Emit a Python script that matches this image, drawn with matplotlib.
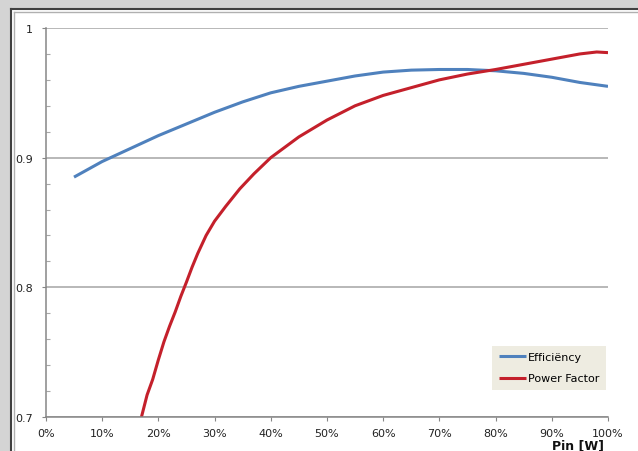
import matplotlib.pyplot as plt
from matplotlib.patches import Rectangle
from matplotlib.lines import Line2D
from matplotlib.ticker import MultipleLocator, PercentFormatter

# load fraction (x) and measured values
eff_x = [0.05, 0.10, 0.15, 0.20, 0.25, 0.30, 0.35, 0.40, 0.45, 0.50,
         0.55, 0.60, 0.65, 0.70, 0.75, 0.80, 0.85, 0.90, 0.95, 1.00]
efficiency = [0.885, 0.897, 0.907, 0.917, 0.926, 0.935, 0.943, 0.950, 0.955, 0.959,
              0.963, 0.966, 0.9675, 0.968, 0.968, 0.967, 0.965, 0.962, 0.958, 0.955]

pf_x = [0.17, 0.18, 0.19, 0.20, 0.21, 0.22, 0.23, 0.24, 0.25, 0.26, 0.27, 0.285, 0.30,
        0.32, 0.345, 0.37, 0.40, 0.425, 0.45, 0.50, 0.55, 0.60, 0.65, 0.70, 0.75,
        0.80, 0.85, 0.90, 0.95, 0.98, 1.00]
power_factor = [0.700, 0.717, 0.729, 0.744, 0.758, 0.770, 0.781, 0.793, 0.804, 0.8155,
                0.826, 0.840, 0.851, 0.8625, 0.876, 0.8875, 0.900, 0.908, 0.916, 0.929,
                0.940, 0.948, 0.954, 0.960, 0.9645, 0.968, 0.972, 0.976, 0.980, 0.9815,
                0.981]

W, H = 638, 452
fig = plt.figure(figsize=(W / 100, H / 100), dpi=100)
fig.patch.set_facecolor('#D4D4D4')

# white chart area with Excel-like border (behind the axes)
fig.patches.append(Rectangle((11 / W, 0), 1, (H - 10) / H, transform=fig.transFigure,
                             facecolor='white', edgecolor='none', zorder=-2))
border = [([11, 11], [0, H - 10], '#404040', 1.5),
          ([11, W], [H - 10, H - 10], '#404040', 1.5),
          ([14, 14], [0, H - 13], '#B0B0B0', 1),
          ([14, W], [H - 13, H - 13], '#B0B0B0', 1)]
for xs, ys, c, w in border:
    fig.add_artist(Line2D([v / W for v in xs], [v / H for v in ys],
                          transform=fig.transFigure, color=c, lw=w, zorder=-1))

left, right, top, bottom = 45.9, 608, 29, 418
ax = fig.add_axes([left / W, (H - bottom) / H, (right - left) / W, (bottom - top) / H])
ax.set_zorder(1)
ax.set_facecolor('none')

ax.plot(eff_x, efficiency, color='#4F81BD', lw=2.2, label='Efficiëncy',
        solid_capstyle='butt', solid_joinstyle='round')
ax.plot(pf_x, power_factor, color='#C4202B', lw=2.2, label='Power Factor',
        solid_capstyle='butt', solid_joinstyle='round')

ax.set_xlim(0, 1)
ax.set_ylim(0.7, 1.0)
ax.xaxis.set_major_locator(MultipleLocator(0.1))
ax.xaxis.set_major_formatter(PercentFormatter(1.0, decimals=0))
ax.yaxis.set_minor_locator(MultipleLocator(0.02))
ax.set_yticks([0.7, 0.8, 0.9, 1.0])
ax.set_yticklabels(['0.7', '0.8', '0.9', '1'])

ax.grid(axis='y', which='major', color='#ABABAB', lw=1.2)
ax.set_axisbelow(True)
for s in ['top', 'right']:
    ax.spines[s].set_visible(False)
for s in ['left', 'bottom']:
    ax.spines[s].set_color('#868686')
    ax.spines[s].set_linewidth(1.1)

ax.tick_params(axis='both', which='major', direction='out', length=3, width=0.8,
               color='#868686', labelsize=8, labelcolor='#222222')
ax.tick_params(axis='y', which='major', pad=6.5)
ax.tick_params(axis='x', which='major', pad=5)
ax.tick_params(axis='y', which='minor', direction='in', length=3, width=0.8, color='#A8A8A8')

fig.text(578 / W, (H - 446) / H, 'Pin [W]', ha='center', va='center',
         fontsize=9, fontweight='bold', color='#111111')

leg = ax.legend(loc='lower right', bbox_to_anchor=(0.9965, 0.069), fontsize=8,
                frameon=True, fancybox=False, handlelength=2.5, handletextpad=0.15,
                labelspacing=1.0, borderpad=0.6, borderaxespad=0)
leg.get_frame().set_facecolor('#EEECE1')
leg.get_frame().set_edgecolor('none')
leg.get_frame().set_alpha(1)

fig.savefig('out.png', dpi=100, facecolor=fig.get_facecolor())
